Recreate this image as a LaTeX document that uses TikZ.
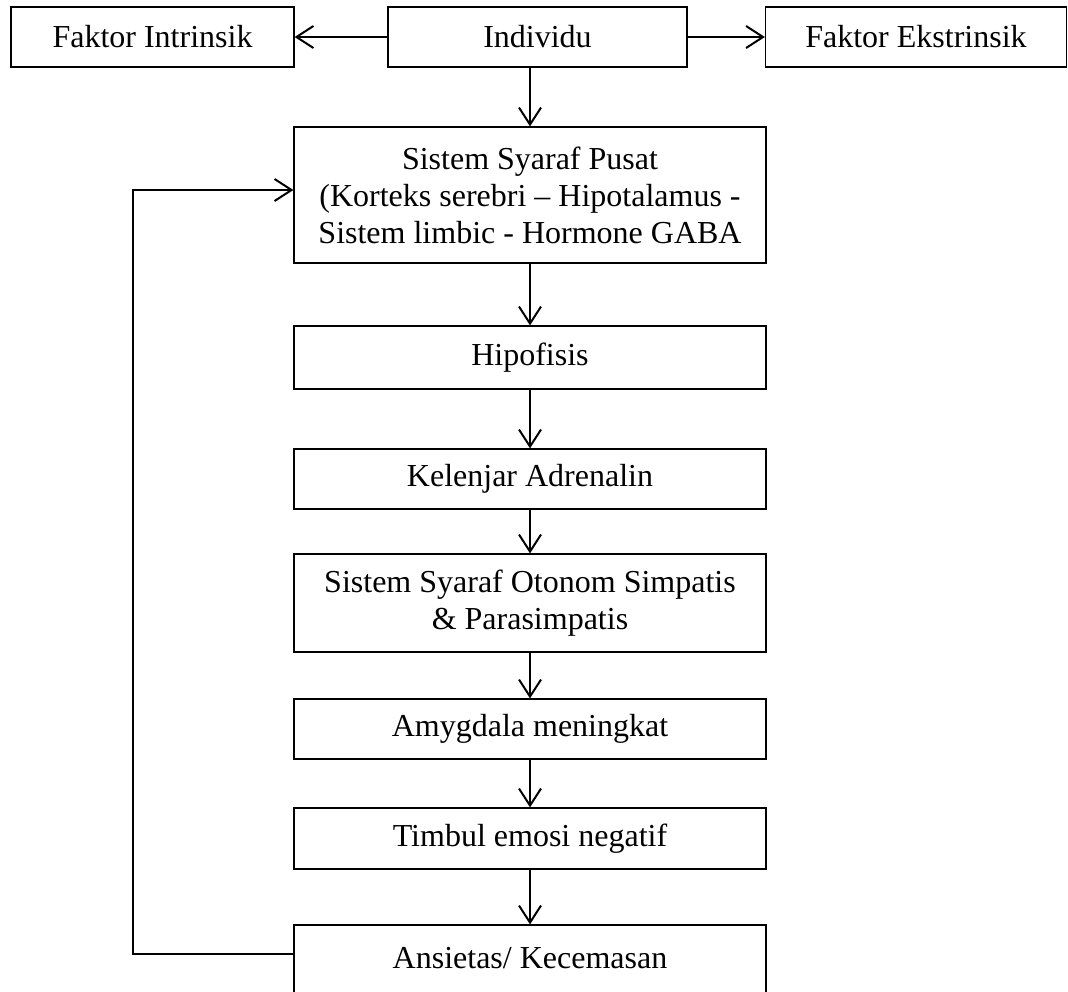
\documentclass[tikz,border=0pt]{standalone}
\usepackage{fontspec}
\setmainfont{Liberation Serif}
\usetikzlibrary{arrows.meta}
\tikzset{
  box/.style={draw=black, line width=1.2pt, rectangle, inner sep=0pt, minimum width=472pt, align=center, font=\fontsize{32}{37}\selectfont},
  arr/.style={draw=black, line width=2pt, -{Straight Barb[length=17pt,width=22pt,line width=2pt]}}
}
\begin{document}
\begin{tikzpicture}[x=1pt,y=-1pt]
\useasboundingbox (0,0) rectangle (1068,991);
\node[box, minimum width=283pt, minimum height=60pt] (intr) at (152.5,37) {Faktor Intrinsik};
\node[box, minimum width=299pt, minimum height=60pt] (ind) at (537.5,37) {Individu};
\node[box, minimum width=301pt, minimum height=60pt] (ekst) at (916,37) {Faktor Ekstrinsik};
\node[box, minimum height=136pt] (ssp) at (530,195) {Sistem Syaraf Pusat\\(Korteks serebri -- Hipotalamus -\\Sistem limbic - Hormone GABA};
\node[box, minimum height=63pt] (hip) at (530,357.5) {Hipofisis};
\node[box, minimum height=60pt] (kel) at (530,479) {Kelenjar Adrenalin};
\node[box, minimum height=98pt] (sso) at (530,603) {Sistem Syaraf Otonom Simpatis\\\& Parasimpatis};
\node[box, minimum height=60pt] (amy) at (530,729) {Amygdala meningkat};
\node[box, minimum height=61pt] (tim) at (530,838.5) {Timbul emosi negatif};
\node[box, minimum height=75pt] (ans) at (530,962.5) {\raisebox{8.5pt}{Ansietas/ Kecemasan}};
\coordinate (fb) at (133,954);
\draw[arr] (ind.west) -- (intr.east);
\draw[arr] (ind.east) -- (ekst.west);
\draw[arr] (ind.south -| ssp.north) -- (ssp.north);
\draw[arr] (ssp) -- (hip);
\draw[arr] (hip) -- (kel);
\draw[arr] (kel) -- (sso);
\draw[arr] (sso) -- (amy);
\draw[arr] (amy) -- (tim);
\draw[arr] (tim) -- (ans);
\draw[arr] ([yshift=8.5pt]ans.west) -- (fb) |- ([yshift=5pt]ssp.west);
\end{tikzpicture}
\end{document}
